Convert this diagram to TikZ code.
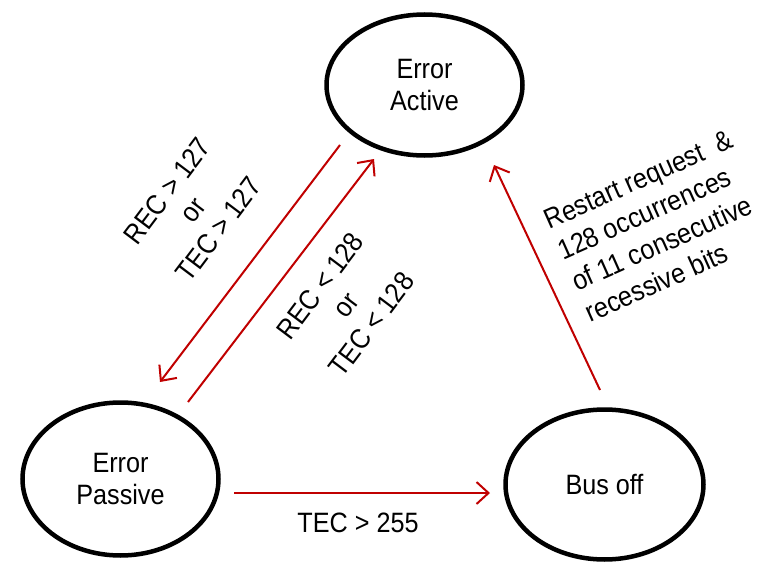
\documentclass[tikz,border=0pt]{standalone}
\usepackage{fontspec}
\setmainfont[FakeStretch=0.9]{Liberation Sans}
\usetikzlibrary{arrows.meta,shapes.geometric}
\definecolor{arrowred}{RGB}{192,0,0}
\begin{document}
\begin{tikzpicture}[x=1pt,y=1pt,
  state/.style={draw, ellipse, line width=4.5pt, inner sep=0pt, align=center,
    font=\fontsize{28}{32}\selectfont},
  trans/.style={draw=arrowred, line width=2pt, -{Straight Barb[length=12pt,width=22pt]}},
  lbl/.style={font=\fontsize{28}{32}\selectfont, align=center, inner sep=0pt}]
\useasboundingbox (0,0) rectangle (772,-562);
\node[state, minimum width=196pt, minimum height=141pt] (act) at (424.5,-85) {Error\\Active};
\node[state, minimum width=196pt, minimum height=153pt] (pas) at (120.5,-479) {Error\\Passive};
\node[state, minimum width=198pt, minimum height=150pt] (off) at (604.5,-484.5) {Bus off};
\coordinate (a1s) at (340,-145);
\coordinate (a1e) at (160,-382);
\coordinate (a2s) at (188,-402);
\coordinate (a2e) at (374,-159);
\coordinate (a3s) at (600,-390);
\coordinate (a3e) at (494,-165);
\coordinate (a4s) at (234,-493);
\coordinate (a4e) at (490,-493);
\draw[trans] (a1s) -- (a1e);
\draw[trans] (a2s) -- (a2e);
\draw[trans] (a3s) -- (a3e);
\draw[trans] (a4s) -- (a4e);
\node[lbl, rotate=53] (l1) at (193,-210) {REC > 127\\or\\TEC > 127};
\node[lbl, rotate=53] (l2) at (346,-305) {REC < 128\\or\\TEC < 128};
\node[lbl, rotate=24, align=left, font=\fontsize{28}{34}\selectfont] (l3) at (659,-226) {Restart request~ \&\\128 occurrences\\of 11 consecutive\\recessive bits};
\node[lbl] (l4) at (358,-523) {TEC > 255};
\end{tikzpicture}
\end{document}
